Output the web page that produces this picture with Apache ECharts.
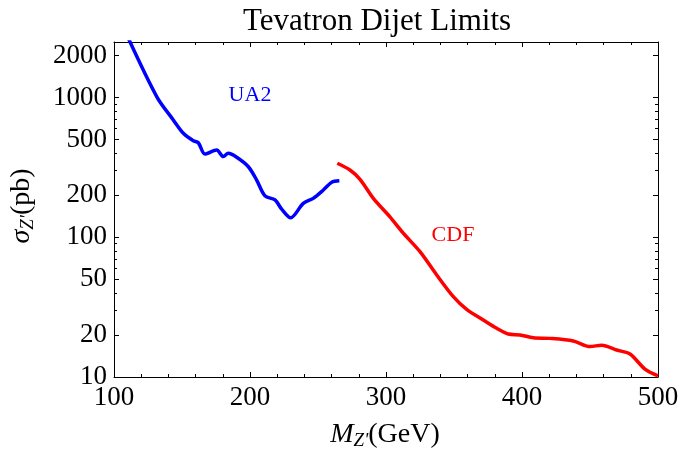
<!DOCTYPE html>
<html>
<head>
<meta charset="utf-8">
<script src="https://cdn.jsdelivr.net/npm/echarts@6/dist/echarts.min.js"></script>
<style>html,body{margin:0;padding:0;background:#fff}#c{width:682px;height:451px}</style>
</head>
<body>
<div id="c"></div>
<script>
// UA2 limit curve (M_Z' in GeV, sigma in pb)
const ua2M = [110, 131.6, 143.6, 151.0, 158.3, 162.0, 166.9, 175.5, 180.4, 184.0, 190.2, 198.8, 204.9, 211.0, 218.4, 223.3, 229.9, 239.2, 246.5, 253.9, 260.1, 265.7];
const ua2Sigma = [2730, 1009, 692, 555, 491, 475, 395, 422, 378, 399, 374, 320, 257, 198, 185, 159, 138, 175, 190, 218, 248, 254];
// CDF limit curve
const cdfM = [264.2, 273.5, 280.9, 290.7, 302.9, 312.7, 325.0, 337.3, 349.5, 359.3, 371.5, 381.4, 389.9, 398.5, 408.3, 420.6, 437.7, 450.0, 458.6, 469.6, 479.4, 490.4, 500];
const cdfSigma = [339, 303, 260, 190, 140, 107, 78.9, 53.7, 37.6, 30.5, 25.6, 22.3, 20.3, 20.0, 19.1, 18.9, 18.1, 16.5, 16.9, 15.6, 14.6, 11.4, 10.2];
// axis ticks
const yMajorTicks = [10, 20, 50, 100, 200, 500, 1000, 2000];
const yMinorTicks = [30, 40, 60, 70, 80, 90, 300, 400, 600, 700, 800, 900];
const xTicks = [100, 200, 300, 400, 500];

const FONT = '"Liberation Serif", "DejaVu Serif", serif';
const chart = echarts.init(document.getElementById('c'), null, {renderer: 'canvas'});

function xAx(pos, showLabel) {
  return {
    type: 'value', position: pos, min: xTicks[0], max: xTicks[xTicks.length - 1], interval: 100,
    axisLine: {show: true, onZero: false, lineStyle: {color: '#000', width: 1}},
    axisTick: {show: true, inside: true, length: 5, lineStyle: {color: '#000', width: 1}},
    minorTick: {show: true, splitNumber: 5, length: 3, lineStyle: {color: '#000', width: 1}},
    axisLabel: {show: showLabel, fontFamily: FONT, fontSize: 27, color: '#000', margin: 7, formatter: v => String(v)},
    splitLine: {show: false}, minorSplitLine: {show: false}
  };
}
function yAx(pos, ticks, len, showLabel, showLine) {
  return {
    type: 'log', logBase: 10, position: pos, min: 10, max: 2500,
    axisLine: {show: showLine, onZero: false, lineStyle: {color: '#000', width: 1}},
    axisTick: {show: true, inside: true, length: len, customValues: ticks, lineStyle: {color: '#000', width: 1}},
    axisLabel: {show: showLabel, customValues: ticks, fontFamily: FONT, fontSize: 27, color: '#000', margin: 7, formatter: v => String(Math.round(v))},
    splitLine: {show: false}
  };
}

const option = {
  animation: false,
  backgroundColor: '#fff',
  grid: {left: 114, right: 24, top: 42, bottom: 74, containLabel: false},
  xAxis: [xAx('bottom', true), xAx('top', false)],
  yAxis: [
    yAx('left', yMajorTicks, 5, true, true),
    yAx('right', yMajorTicks, 5, false, true),
    yAx('left', yMinorTicks, 3, false, false),
    yAx('right', yMinorTicks, 3, false, false)
  ],
  series: [
    {
      type: 'line', xAxisIndex: 0, yAxisIndex: 0, showSymbol: false, smooth: 0.3, clip: true,
      lineStyle: {color: '#0000ff', width: 3.5},
      data: ua2M.map((m, i) => [m, ua2Sigma[i]])
    },
    {
      type: 'line', xAxisIndex: 0, yAxisIndex: 0, showSymbol: false, smooth: 0.3, clip: true,
      lineStyle: {color: '#ff0000', width: 3.5},
      data: cdfM.map((m, i) => [m, cdfSigma[i]])
    }
  ],
  graphic: [
    {type: 'text', left: 243, top: 6, style: {text: 'Tevatron Dijet Limits', font: '31px ' + FONT, fill: '#000'}},
    {type: 'text', x: 250, y: 95, style: {text: 'UA2', font: '22px ' + FONT, fill: '#0000ff', align: 'center', verticalAlign: 'middle'}},
    {type: 'text', x: 453, y: 235, style: {text: 'CDF', font: '22px ' + FONT, fill: '#ff0000', align: 'center', verticalAlign: 'middle'}},
    {type: 'text', x: 385, y: 435, style: {
      text: '{i|M}{sub|Z\'}{n|(GeV)}', align: 'center', verticalAlign: 'middle',
      rich: {
        i: {fontFamily: FONT, fontSize: 28, fontStyle: 'italic', fill: '#000'},
        sub: {fontFamily: FONT, fontSize: 19, fontStyle: 'italic', fill: '#000', padding: [12, 0, 0, 0]},
        n: {fontFamily: FONT, fontSize: 28, fill: '#000'}
      }}},
    {type: 'text', x: 22, y: 206, rotation: Math.PI / 2, style: {
      text: '{i|σ}{sub|Z\'}{n|(pb)}', align: 'center', verticalAlign: 'middle',
      rich: {
        i: {fontFamily: FONT, fontSize: 28, fontStyle: 'italic', fill: '#000'},
        sub: {fontFamily: FONT, fontSize: 19, fontStyle: 'italic', fill: '#000', padding: [12, 0, 0, 0]},
        n: {fontFamily: FONT, fontSize: 28, fill: '#000'}
      }}}
  ]
};
chart.setOption(option);
</script>
</body>
</html>
